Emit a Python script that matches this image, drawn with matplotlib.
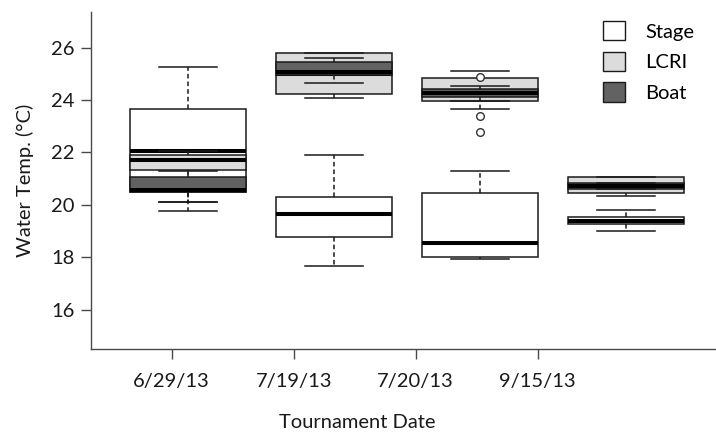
import matplotlib
matplotlib.use('Agg')
import matplotlib.pyplot as plt
from matplotlib.patches import Patch
import numpy as np

plt.rcParams['font.family'] = ['Lato', 'DejaVu Sans']

dates = ['6/29/13', '7/19/13', '7/20/13', '9/15/13']
series_names = ['Stage', 'LCRI', 'Boat']

# five-number summaries per date: [lower whisker, Q1, median, Q3, upper whisker]
stage = [[19.78, 20.48, 22.06, 23.67, 25.25],
         [17.68, 18.77, 19.66, 20.29, 21.92],
         [17.94, 18.01, 18.56, 20.47, 21.31],
         [19.02, 19.28, 19.40, 19.53, 19.81]]
lcri = [[20.10, 21.33, 21.71, 21.90, 22.06],
        [24.06, 24.23, 25.00, 25.78, 25.78],
        [23.97, 23.97, 24.25, 24.83, 25.12],
        [20.35, 20.45, 20.72, 21.06, 21.06]]
boat = [[20.10, 20.48, 20.57, 21.08, 21.31],
        [24.64, 24.95, 25.06, 25.46, 25.59],
        [23.66, 24.10, 24.28, 24.41, 24.53],
        [20.60, 20.62, 20.72, 20.84, 20.84]]
stage_outliers = [[], [], [], []]
lcri_outliers = [[], [], [], []]
boat_outliers = [[], [], [24.86, 23.40, 22.77], []]

y_ticks = [16, 18, 20, 22, 24, 26]

fills = ['white', '#dcdcdc', '#626262']
FS = 14.5

fig = plt.figure(figsize=(7.16, 4.42), dpi=100)
ax = fig.add_axes([91 / 716, 1 - 349 / 442, 1 - 91 / 716, (349 - 11.7) / 442])

box_pos = np.arange(1, len(dates) + 1)
tick_pos = 0.888 + np.arange(len(dates)) * (122 / 146)

def to_stats(summ, outl):
    out = []
    for s, f in zip(summ, outl):
        out.append(dict(whislo=s[0], q1=s[1], med=s[2], q3=s[3], whishi=s[4], fliers=f))
    return out

all_series = [(stage, stage_outliers), (lcri, lcri_outliers), (boat, boat_outliers)]
for i, ((summ, outl), fc) in enumerate(zip(all_series, fills)):
    ax.bxp(to_stats(summ, outl), positions=box_pos, widths=0.80,
           patch_artist=True, manage_ticks=False, zorder=2 + i,
           boxprops=dict(facecolor=fc, edgecolor='#1a1a1a', linewidth=1.1),
           whiskerprops=dict(color='#1a1a1a', linewidth=1.1, linestyle=(0, (3, 2))),
           capprops=dict(color='#1a1a1a', linewidth=1.1),
           medianprops=dict(color='black', linewidth=2.9, solid_capstyle='butt'),
           flierprops=dict(marker='o', markersize=5.5, markerfacecolor='white',
                           markeredgecolor='#333333', markeredgewidth=1.0))

ax.set_xlim(0.336, 4.616)
ax.set_ylim(14.514, 27.364)
ax.set_yticks(y_ticks)
ax.set_yticklabels([str(v) for v in y_ticks])
ax.set_xticks(tick_pos)
ax.set_xticklabels(dates)

for side in ['top', 'right']:
    ax.spines[side].set_visible(False)
for side in ['left', 'bottom']:
    ax.spines[side].set_color('#4a4a4a')
    ax.spines[side].set_linewidth(1.0)

ax.tick_params(axis='both', colors='#4a4a4a', length=7, width=1.0,
               labelsize=FS, labelcolor='#1a1a1a')
ax.tick_params(axis='x', pad=10)
ax.tick_params(axis='y', pad=5)

ax.set_ylabel('Water Temp. (°C)', fontsize=FS, color='#1a1a1a')
ax.set_xlabel('Tournament Date', fontsize=FS, color='#1a1a1a')
ax.xaxis.set_label_coords((357 - 91) / (716 - 91), -(414 - 349) / (349 - 11.7))
ax.yaxis.set_label_coords(-(91 - 34) / (716 - 91), 0.5)

handles = [Patch(facecolor=fc, edgecolor='#1a1a1a', linewidth=1.0) for fc in fills]
fig.legend(handles, series_names, loc='upper left',
           bbox_to_anchor=(603 / 716, 1 - 21 / 442), bbox_transform=fig.transFigure,
           frameon=False, fontsize=FS, handlelength=1.1, handleheight=1.1,
           handletextpad=1.0, labelspacing=0.55, borderpad=0, borderaxespad=0)

fig.savefig('out.png', dpi=100)
